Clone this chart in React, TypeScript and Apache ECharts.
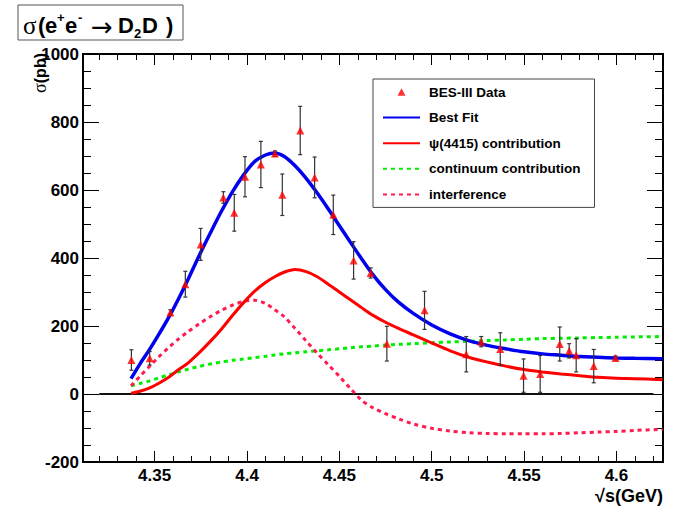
import React, { useEffect, useRef } from "react";
import * as echarts from "echarts";

// ---- data ----
const dataX = [4.3374, 4.3473, 4.3585, 4.3666, 4.3749, 4.3872, 4.3931, 4.3989, 4.4075, 4.4151, 4.4191, 4.4288, 4.4366, 4.4467, 4.4577, 4.4669, 4.4757, 4.4961, 4.5187, 4.5268, 4.5371, 4.5497, 4.5587, 4.5693, 4.5744, 4.5782, 4.5877, 4.5995];
const dataY = [100, 105, 240, 323, 440, 578, 533, 639, 675, 707, 586, 775, 637, 527, 393, 356, 148, 246, 117, 154, 132, 54, 59, 147, 127, 114, 82, 106];
const dataErr = [30, 20, 8, 38, 47, 17, 54, 59, 68, 8, 61, 71, 60, 58, 55, 15, 51, 56, 52, 15, 48, 49, 54, 50, 21, 49, 49, 6];

const curveX = [4.3372, 4.342, 4.347, 4.352, 4.358, 4.363, 4.368, 4.374, 4.38, 4.386, 4.392, 4.398, 4.404, 4.41, 4.415, 4.42, 4.426, 4.432, 4.438, 4.444, 4.45, 4.456, 4.462, 4.468, 4.475, 4.482, 4.49, 4.5, 4.51, 4.52, 4.53, 4.54, 4.55, 4.56, 4.57, 4.58, 4.59, 4.6, 4.61, 4.625];
const bestFit = [45, 88, 129, 173, 229, 281, 336, 406, 472, 536, 594, 643, 683, 703, 709, 699, 671, 634, 591, 544, 495, 446, 398, 352, 307, 270, 237, 203, 177, 157, 143, 133, 124, 118, 114, 110, 108, 106, 105, 104];
const psiContrib = [2, 8, 17, 31, 51, 72, 91, 121, 154, 190, 230, 268, 302, 328, 345, 358, 366, 360, 345, 323, 300, 277, 254, 232, 211, 193, 174, 150, 127, 108, 94, 82, 72, 65, 59, 54, 49, 46, 45, 42];
const continuum = [24, 31, 38, 47, 57, 65, 73, 81, 88, 94, 99, 103, 107, 111, 115, 118, 121, 124, 127, 130, 133, 136, 139, 141, 144, 146, 148, 151, 153, 155, 157, 159, 161, 163, 164, 165, 166, 167, 168, 169];
const interference = [24, 52, 80, 108, 139, 162, 183, 206, 227, 246, 261, 272, 276, 266, 248, 228, 193, 156, 120, 86, 52, 16, -18, -40, -58, -73, -88, -101, -109, -114, -116, -117, -117, -117, -116, -114, -112, -110, -107, -104];

const zeroLineX = [4.32, 4.62];
const xMajorTicks = [4.35, 4.4, 4.45, 4.5, 4.55, 4.6];
const xMinorTicks = [4.32, 4.33, 4.34, 4.36, 4.37, 4.38, 4.39, 4.41, 4.42, 4.43, 4.44, 4.46, 4.47, 4.48, 4.49, 4.51, 4.52, 4.53, 4.54, 4.56, 4.57, 4.58, 4.59, 4.61, 4.62];
const legendNames = ["BES-III Data", "Best Fit", "ψ(4415) contribution", "continuum contribution", "interference"];

const X_MIN = 4.3112;
const X_MAX = 4.6252;

const FONT = '"Liberation Sans", Arial, Helvetica, sans-serif';
const SERIF = '"Liberation Serif", "DejaVu Serif", serif';
const ARROW_FONT = '"DejaVu Sans", sans-serif';

// triangle icon padded to the legend item width so it keeps its shape
const TRI_ICON = "path://M0,4L0.01,4.01L0,4.02Z M14.5,8L18.5,0.5L22.5,8Z M37,4L37.01,4.01L37,4.02Z";

function zipXY(xs: number[], ys: number[]) {
  return xs.map((x, i) => [x, ys[i]]);
}

function txt(text: string, x: number, y: number, font: string, size: number, bold: boolean) {
  return {
    type: "text",
    x,
    y,
    style: {
      text,
      fontFamily: font,
      fontSize: size,
      fontWeight: bold ? "bold" : "normal",
      fill: "#000",
      align: "left",
      textAlign: "left",
      verticalAlign: "middle",
      textVerticalAlign: "middle",
    },
  };
}

export default function App() {
  const ref = useRef<HTMLDivElement>(null);
  useEffect(() => {
    if (!ref.current) return;
    const chart = echarts.init(ref.current, null, { renderer: "svg" });
    const tickStyle = { color: "#000", width: 1 };
    const xBase: any = {
      type: "value",
      min: X_MIN,
      max: X_MAX,
      gridIndex: 0,
      splitLine: { show: false },
      axisLine: { show: false, onZero: false },
      axisLabel: { show: false },
    };
    const majorTick = { show: true, inside: true, length: 11, customValues: xMajorTicks, lineStyle: tickStyle };
    const minorTick = { show: true, inside: true, length: 6, customValues: xMinorTicks, lineStyle: tickStyle };
    const yBase: any = {
      type: "value",
      min: -200,
      max: 1000,
      interval: 200,
      gridIndex: 0,
      splitLine: { show: false },
      axisLine: { show: false, onZero: false },
      axisTick: { show: true, inside: true, length: 16, lineStyle: tickStyle },
      minorTick: { show: true, splitNumber: 4, length: 8, lineStyle: tickStyle },
    };
    const lineCommon = { type: "line", symbol: "none", showSymbol: false, smooth: 0.3, xAxisIndex: 0, yAxisIndex: 0, clip: true };
    const hideSym = { opacity: 0 };

    const mainY = 25.5;
    chart.setOption({
      animation: false,
      backgroundColor: "#fff",
      grid: {
        left: 83,
        right: 13,
        top: 54,
        bottom: 44,
        show: true,
        borderColor: "#000",
        borderWidth: 2,
        backgroundColor: "transparent",
        outerBoundsMode: "none",
        containLabel: false,
      },
      xAxis: [
        {
          ...xBase,
          position: "bottom",
          axisTick: majorTick,
          axisLabel: {
            show: true,
            customValues: xMajorTicks,
            margin: 5,
            fontSize: 17,
            fontWeight: "bold",
            fontFamily: FONT,
            color: "#000",
          },
        },
        { ...xBase, position: "bottom", axisTick: minorTick },
        { ...xBase, position: "top", axisTick: majorTick },
        { ...xBase, position: "top", axisTick: minorTick },
      ],
      yAxis: [
        {
          ...yBase,
          position: "left",
          axisLabel: {
            show: true,
            margin: 4,
            fontSize: 17,
            fontWeight: "bold",
            fontFamily: FONT,
            color: "#000",
            formatter: (v: number) => String(v),
          },
        },
        { ...yBase, position: "right", axisLabel: { show: false } },
      ],
      legend: {
        orient: "vertical",
        left: 373,
        top: 79,
        itemWidth: 37,
        itemHeight: 8,
        itemGap: 11.6,
        padding: [6, 14, 6, 9],
        borderColor: "#444",
        borderWidth: 1,
        backgroundColor: "#fff",
        selectedMode: false,
        data: [
          { name: legendNames[0], icon: TRI_ICON },
          { name: legendNames[1], itemStyle: hideSym },
          { name: legendNames[2], itemStyle: hideSym },
          { name: legendNames[3], itemStyle: hideSym },
          { name: legendNames[4], itemStyle: hideSym },
        ],
        textStyle: { fontFamily: FONT, fontWeight: "bold", fontSize: 13.5, color: "#000", padding: [0, 0, 0, 4] },
      },
      graphic: [
        {
          type: "group",
          children: [
            {
              type: "rect",
              shape: { x: 18, y: 5, width: 165, height: 35 },
              style: { fill: "#fff", stroke: "#555", lineWidth: 1 },
            },
            txt("σ", 23, mainY, SERIF, 25, false),
            txt("(", 38, mainY, FONT, 22, true),
            txt("e", 45, mainY, FONT, 22, true),
            txt("+", 57, 17, FONT, 13, true),
            txt("e", 65, mainY, FONT, 22, true),
            txt("-", 78, 17, FONT, 13, true),
            txt("→", 91, mainY + 1, ARROW_FONT, 26, false),
            txt("D", 118, mainY, FONT, 22, true),
            txt("2", 134, 33, FONT, 13, true),
            txt("D", 142, mainY, FONT, 22, true),
            txt(")", 166, mainY, FONT, 22, true),
          ],
        },
        {
          type: "text",
          x: 40,
          y: 53,
          rotation: Math.PI / 2,
          style: {
            text: "{g|σ}{b|(pb)}",
            align: "right",
            textAlign: "right",
            verticalAlign: "middle",
            textVerticalAlign: "middle",
            rich: {
              g: { fontFamily: SERIF, fontSize: 18, fill: "#000" },
              b: { fontFamily: FONT, fontWeight: "bold", fontSize: 16, fill: "#000" },
            },
          },
        },
        {
          type: "text",
          x: 663,
          y: 496,
          style: {
            text: "√s(GeV)",
            align: "right",
            textAlign: "right",
            verticalAlign: "middle",
            textVerticalAlign: "middle",
            fontFamily: FONT,
            fontWeight: "bold",
            fontSize: 18,
            fill: "#000",
          },
        },
      ],
      series: [
        {
          name: "zero",
          type: "line",
          symbol: "none",
          data: zeroLineX.map((x) => [x, 0]),
          lineStyle: { color: "#111", width: 1.8 },
          silent: true,
          z: 1,
        },
        {
          ...lineCommon,
          name: "continuum contribution",
          data: zipXY(curveX, continuum),
          lineStyle: { color: "#00ee00", width: 3, type: [4, 4] },
          itemStyle: { color: "#00ee00" },
          z: 2,
        },
        {
          ...lineCommon,
          name: "interference",
          data: zipXY(curveX, interference),
          lineStyle: { color: "#ff1a50", width: 3, type: [4, 4] },
          itemStyle: { color: "#ff1a50" },
          z: 2,
        },
        {
          ...lineCommon,
          name: "ψ(4415) contribution",
          data: zipXY(curveX, psiContrib),
          lineStyle: { color: "#ff0000", width: 3 },
          itemStyle: { color: "#ff0000" },
          z: 3,
        },
        {
          ...lineCommon,
          name: "Best Fit",
          data: zipXY(curveX, bestFit),
          lineStyle: { color: "#0000ee", width: 3.5 },
          itemStyle: { color: "#0000ee" },
          z: 4,
        },
        {
          name: "errors",
          type: "custom",
          z: 5,
          silent: true,
          data: dataX.map((x, i) => [x, dataY[i], dataErr[i]]),
          encode: { x: 0, y: 1 },
          renderItem: (params: any, api: any) => {
            const x = api.value(0);
            const y = api.value(1);
            const e = api.value(2);
            const top = api.coord([x, y + e]);
            const bot = api.coord([x, y - e]);
            const w = 2;
            const st = { stroke: "#333", lineWidth: 1.2 };
            return {
              type: "group",
              children: [
                { type: "line", shape: { x1: top[0], y1: top[1], x2: bot[0], y2: bot[1] }, style: st },
                { type: "line", shape: { x1: top[0] - w, y1: top[1], x2: top[0] + w, y2: top[1] }, style: st },
                { type: "line", shape: { x1: bot[0] - w, y1: bot[1], x2: bot[0] + w, y2: bot[1] }, style: st },
              ],
            };
          },
        },
        {
          name: "BES-III Data",
          type: "scatter",
          symbol: "triangle",
          symbolSize: 8,
          z: 6,
          data: zipXY(dataX, dataY),
          itemStyle: { color: "#ff0000" },
        },
      ],
    });
    return () => chart.dispose();
  }, []);
  return <div ref={ref} style={{ position: "absolute", left: 0, top: 0, width: 676, height: 506 }} />;
}
